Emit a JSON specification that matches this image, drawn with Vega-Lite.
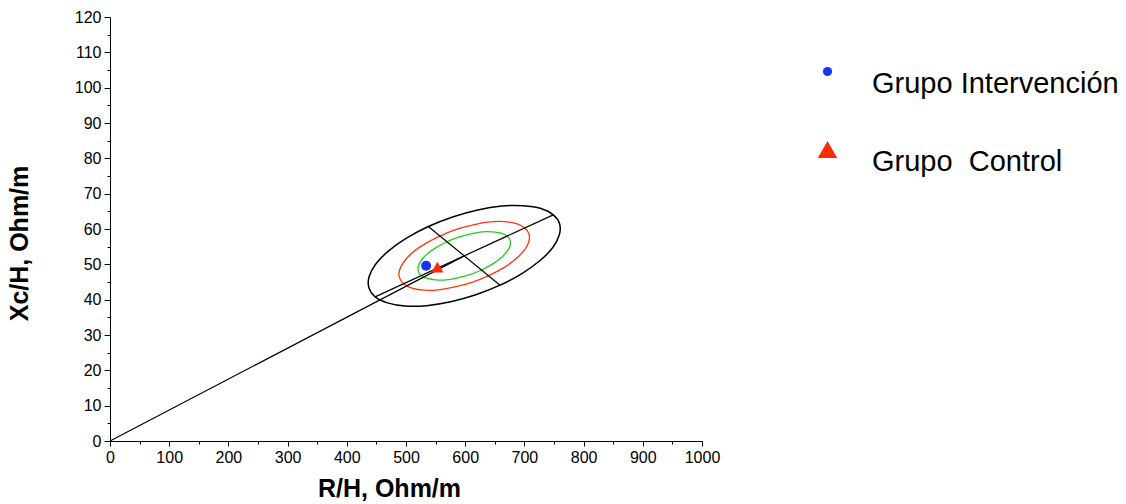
{
  "$schema": "https://vega.github.io/schema/vega-lite/v6.json",
  "autosize": {"type": "none"},
  "width": 592,
  "height": 424,
  "padding": {"left": 110, "top": 17, "right": 424, "bottom": 63},
  "background": "white",
  "datasets": {
    "black": [
      {"o":0,"x":748.8,"y":64.0},{"o":1,"x":728.0,"y":65.8},{"o":2,"x":698.3,"y":66.6},{"o":3,"x":661.9,"y":66.5},
      {"o":4,"x":621.1,"y":65.4},{"o":5,"x":578.7,"y":63.4},{"o":6,"x":537.7,"y":60.7},{"o":7,"x":500.8,"y":57.4},
      {"o":8,"x":470.6,"y":53.8},{"o":9,"x":449.0,"y":50.1},{"o":10,"x":437.7,"y":46.5},{"o":11,"x":437.3,"y":43.4},
      {"o":12,"x":447.8,"y":40.8},{"o":13,"x":468.6,"y":39.1},{"o":14,"x":498.3,"y":38.2},{"o":15,"x":534.7,"y":38.3},
      {"o":16,"x":575.5,"y":39.4},{"o":17,"x":617.9,"y":41.4},{"o":18,"x":658.9,"y":44.1},{"o":19,"x":695.8,"y":47.4},
      {"o":20,"x":726.0,"y":51.0},{"o":21,"x":747.6,"y":54.7},{"o":22,"x":758.9,"y":58.3},{"o":23,"x":759.4,"y":61.5}
    ],
    "red": [
      {"o":0,"x":700.6,"y":60.3},{"o":1,"x":686.5,"y":61.5},{"o":2,"x":666.3,"y":62.1},{"o":3,"x":641.5,"y":62.0},
      {"o":4,"x":613.8,"y":61.2},{"o":5,"x":585.0,"y":59.9},{"o":6,"x":557.1,"y":58.0},{"o":7,"x":532.0,"y":55.8},
      {"o":8,"x":511.4,"y":53.4},{"o":9,"x":496.8,"y":50.8},{"o":10,"x":489.1,"y":48.4},{"o":11,"x":488.8,"y":46.3},
      {"o":12,"x":496.0,"y":44.5},{"o":13,"x":510.1,"y":43.3},{"o":14,"x":530.3,"y":42.7},{"o":15,"x":555.1,"y":42.8},
      {"o":16,"x":582.8,"y":43.6},{"o":17,"x":611.6,"y":44.9},{"o":18,"x":639.5,"y":46.8},{"o":19,"x":664.6,"y":49.0},
      {"o":20,"x":685.2,"y":51.5},{"o":21,"x":699.8,"y":54.0},{"o":22,"x":707.5,"y":56.4},{"o":23,"x":707.8,"y":58.6}
    ],
    "green": [
      {"o":0,"x":670.7,"y":58.0},{"o":1,"x":660.7,"y":58.8},{"o":2,"x":646.4,"y":59.2},{"o":3,"x":628.9,"y":59.2},
      {"o":4,"x":609.3,"y":58.6},{"o":5,"x":588.9,"y":57.7},{"o":6,"x":569.2,"y":56.4},{"o":7,"x":551.4,"y":54.8},
      {"o":8,"x":536.9,"y":53.1},{"o":9,"x":526.5,"y":51.3},{"o":10,"x":521.0,"y":49.6},{"o":11,"x":520.8,"y":48.0},
      {"o":12,"x":525.9,"y":46.8},{"o":13,"x":535.9,"y":46.0},{"o":14,"x":550.2,"y":45.6},{"o":15,"x":567.7,"y":45.6},
      {"o":16,"x":587.4,"y":46.2},{"o":17,"x":607.7,"y":47.1},{"o":18,"x":627.5,"y":48.4},{"o":19,"x":645.2,"y":50.0},
      {"o":20,"x":659.7,"y":51.7},{"o":21,"x":670.1,"y":53.5},{"o":22,"x":675.6,"y":55.2},{"o":23,"x":675.8,"y":56.8}
    ],
    "segments": [
      {"seg":"vector","x":0,"y":0,"x2":598.3,"y2":52.4},
      {"seg":"major","x":447.8,"y":40.8,"x2":748.8,"y2":64.0},
      {"seg":"minor","x":537.7,"y":60.7,"x2":658.9,"y2":44.1}
    ],
    "points": [
      {"grupo":"Grupo Intervención","x":534,"y":49.6},
      {"grupo":"Grupo  Control","x":553,"y":49.2}
    ]
  },
  "encoding": {
    "x": {"field": "x", "type": "quantitative", "scale": {"domain": [0, 1000], "nice": false, "zero": false},
      "axis": {
        "title": "R/H, Ohm/m",
        "format": "d",
        "values": [0,50,100,150,200,250,300,350,400,450,500,550,600,650,700,750,800,850,900,950,1000],
        "labelExpr": "datum.value % 100 === 0 ? datum.label : ''",
        "labelOverlap": false,
        "labelFlush": false,
        "tickSize": {"condition": {"test": "datum.value % 100 === 0", "value": 5}, "value": 3},
        "titleX": 279, "titlePadding": 11
      }},
    "y": {"field": "y", "type": "quantitative", "scale": {"domain": [0, 120], "nice": false, "zero": false},
      "axis": {
        "title": "Xc/H, Ohm/m",
        "format": "d",
        "values": [0,5,10,15,20,25,30,35,40,45,50,55,60,65,70,75,80,85,90,95,100,105,110,115,120],
        "labelExpr": "datum.value % 10 === 0 ? datum.label : ''",
        "labelOverlap": false,
        "labelFlush": false,
        "labelBound": false,
        "tickSize": {"condition": {"test": "datum.value % 10 === 0", "value": 6}, "value": 3},
        "titleX": -91, "titleY": 226, "titleAngle": -90, "titleAlign": "center", "titleBaseline": "middle"
      }}
  },
  "layer": [
    {
      "data": {"name": "black"},
      "mark": {"type": "line", "interpolate": "cardinal-closed", "color": "black", "strokeWidth": 1.5},
      "encoding": {"order": {"field": "o", "type": "quantitative"}}
    },
    {
      "data": {"name": "red"},
      "mark": {"type": "line", "interpolate": "cardinal-closed", "color": "#ff3311", "strokeWidth": 1.3},
      "encoding": {"order": {"field": "o", "type": "quantitative"}}
    },
    {
      "data": {"name": "green"},
      "mark": {"type": "line", "interpolate": "cardinal-closed", "color": "#22cc22", "strokeWidth": 1.3},
      "encoding": {"order": {"field": "o", "type": "quantitative"}}
    },
    {
      "data": {"name": "segments"},
      "mark": {"type": "rule", "color": "black", "strokeWidth": 1.2},
      "encoding": {
        "x2": {"field": "x2"},
        "y2": {"field": "y2"}
      }
    },
    {
      "data": {"name": "points"},
      "mark": {"type": "point", "filled": true, "opacity": 1},
      "encoding": {
        "color": {"field": "grupo", "type": "nominal",
          "scale": {"domain": ["Grupo Intervención", "Grupo  Control"], "range": ["#1636f5", "#ff2a00"]},
          "legend": {"title": null,
            "labelExpr": "replace(datum.label, '  ', ' \u00a0')",
            "encode": {
              "symbols": {"update": {"size": {"signal": "datum.value === 'Grupo  Control' ? 380 : 85"}}},
              "labels": {"update": {"dy": {"value": 12}}}
            }}},
        "shape": {"field": "grupo", "type": "nominal",
          "scale": {"domain": ["Grupo Intervención", "Grupo  Control"], "range": ["circle", "triangle-up"]},
          "legend": {"title": null,
            "labelExpr": "replace(datum.label, '  ', ' \u00a0')",
            "encode": {
              "symbols": {"update": {"size": {"signal": "datum.value === 'Grupo  Control' ? 380 : 85"}}},
              "labels": {"update": {"dy": {"value": 12}}}
            }}},
        "size": {"condition": {"test": "datum.grupo === 'Grupo  Control'", "value": 150}, "value": 100}
      }
    }
  ],
  "config": {
    "view": {"stroke": null},
    "axis": {
      "grid": false,
      "domainColor": "black",
      "tickColor": "black",
      "labelColor": "black",
      "titleColor": "black",
      "labelFont": "Liberation Sans",
      "labelFontSize": 16,
      "titleFont": "Liberation Sans",
      "titleFontSize": 25,
      "titleFontWeight": "bold",
      "labelPadding": 3,
      "labelOverlap": false,
      "labelFlush": false
    },
    "legend": {
      "orient": "none",
      "legendX": 703,
      "legendY": 40,
      "labelFont": "Liberation Sans",
      "labelFontSize": 29,
      "labelColor": "black",
      "symbolSize": 400,
      "labelOffset": 30,
      "rowPadding": 36,
      "padding": 0,
      "labelLimit": 400,
      "symbolStrokeWidth": 0,
      "symbolOpacity": 1
    }
  }
}
